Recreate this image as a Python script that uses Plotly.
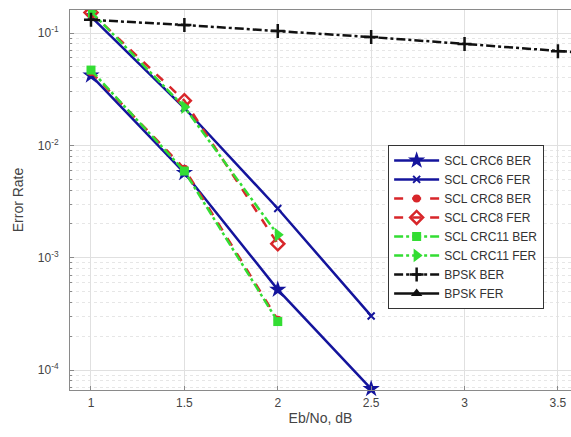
import plotly.graph_objects as go

ebno = [1.0, 1.5, 2.0, 2.5]
crc6_ber = [0.042, 0.0057, 5.2e-4, 6.8e-5]
crc6_fer = [0.140, 0.0215, 2.74e-3, 3.03e-4]
ebno3 = [1.0, 1.5, 2.0]
crc8_ber = [0.045, 0.0062, 2.8e-4]
crc8_fer = [0.152, 0.025, 1.33e-3]
crc11_ber = [0.0468, 0.0059, 2.7e-4]
crc11_fer = [0.155, 0.0219, 1.6e-3]
ebno_bpsk = [1.0, 1.5, 2.0, 2.5, 3.0, 3.5, 4.0]
bpsk_ber = [0.131, 0.118, 0.104, 0.092, 0.080, 0.069, 0.060]
bpsk_fer = [1.0, 1.0, 1.0, 1.0, 1.0, 1.0, 1.0]

ytickvals = [1e-4, 1e-3, 1e-2, 1e-1]
yticktext = ["10<sup>-4</sup>", "10<sup>-3</sup>", "10<sup>-2</sup>", "10<sup>-1</sup>"]
yminorvals = [m * d for d in [1e-5, 1e-4, 1e-3, 1e-2, 1e-1] for m in range(2, 10)]
xtickvals = [1, 1.5, 2, 2.5, 3, 3.5]
xticktext = ["1", "1.5", "2", "2.5", "3", "3.5"]

BLUE = "#14149c"
RED = "#d8262a"
GREEN = "#33dd33"
BLACK = "#111111"
FONT = "Liberation Sans, Arial, sans-serif"

fig = go.Figure()
fig.add_trace(go.Scatter(x=ebno, y=crc6_ber, name="SCL CRC6 BER", mode="lines+markers",
                         line=dict(color=BLUE, width=2.5),
                         marker=dict(symbol="star", size=13, color=BLUE), cliponaxis=False))
fig.add_trace(go.Scatter(x=ebno, y=crc6_fer, name="SCL CRC6 FER", mode="lines+markers",
                         line=dict(color=BLUE, width=2.5),
                         marker=dict(symbol="x-thin", size=7, color=BLUE, line=dict(color=BLUE, width=2))))
fig.add_trace(go.Scatter(x=ebno3, y=crc8_ber, name="SCL CRC8 BER", mode="lines+markers",
                         line=dict(color=RED, width=2.5, dash="dash"),
                         marker=dict(symbol="circle", size=8, color=RED)))
fig.add_trace(go.Scatter(x=ebno3, y=crc8_fer, name="SCL CRC8 FER", mode="lines+markers",
                         line=dict(color=RED, width=2.5, dash="dash"),
                         marker=dict(symbol="diamond-open", size=10, color=RED, line=dict(width=2.5))))
fig.add_trace(go.Scatter(x=ebno3, y=crc11_ber, name="SCL CRC11 BER", mode="lines+markers",
                         line=dict(color=GREEN, width=2.5, dash="dashdot"),
                         marker=dict(symbol="square", size=9, color=GREEN)))
fig.add_trace(go.Scatter(x=ebno3, y=crc11_fer, name="SCL CRC11 FER", mode="lines+markers",
                         line=dict(color=GREEN, width=2.5, dash="dashdot"),
                         marker=dict(symbol="triangle-right", size=12, color=GREEN)))
fig.add_trace(go.Scatter(x=ebno_bpsk, y=bpsk_ber, name="BPSK BER", mode="lines+markers",
                         line=dict(color=BLACK, width=2.5, dash="dashdot"),
                         marker=dict(symbol="cross-thin", size=10, color=BLACK, line=dict(color=BLACK, width=2.5))))
fig.add_trace(go.Scatter(x=ebno_bpsk, y=bpsk_fer, name="BPSK FER", mode="lines+markers",
                         line=dict(color=BLACK, width=2.5),
                         marker=dict(symbol="triangle-up", size=10, color=BLACK)))

axis_common = dict(showline=True, linecolor="#8a8a8a", linewidth=1, mirror=True,
                   ticks="inside", tickcolor="#8a8a8a", ticklen=4,
                   showgrid=True, gridcolor="#e0e0e0", gridwidth=1, zeroline=False,
                   tickfont=dict(family=FONT, size=12, color="#444444"),
                   title_font=dict(family=FONT, size=14, color="#444444"))

fig.update_xaxes(range=[0.8876, 3.57], tickvals=xtickvals, ticktext=xticktext,
                 title_text="Eb/No, dB", title_standoff=3, ticklabelstandoff=2, **axis_common)
fig.update_yaxes(type="log", range=[-4.178, -0.795], tickvals=ytickvals, ticktext=yticktext,
                 title_text="Error Rate", title_standoff=10, ticklabelstandoff=8,
                 minor=dict(tickvals=yminorvals, ticks="inside", ticklen=2, tickcolor="#8a8a8a",
                            showgrid=True, gridcolor="#e6e6e6", griddash="dot"),
                 **axis_common)

fig.update_layout(
    width=571, height=437,
    margin=dict(l=70, r=0, t=10, b=47),
    plot_bgcolor="white", paper_bgcolor="white",
    font=dict(family=FONT, size=12, color="#333333"),
    legend=dict(x=0.635, y=0.645, xanchor="left", yanchor="top",
                bgcolor="white", bordercolor="#333333", borderwidth=1,
                font=dict(family=FONT, size=12, color="#333333"), tracegroupgap=0, itemwidth=45),
    showlegend=True,
)

fig.write_html("out.html")
